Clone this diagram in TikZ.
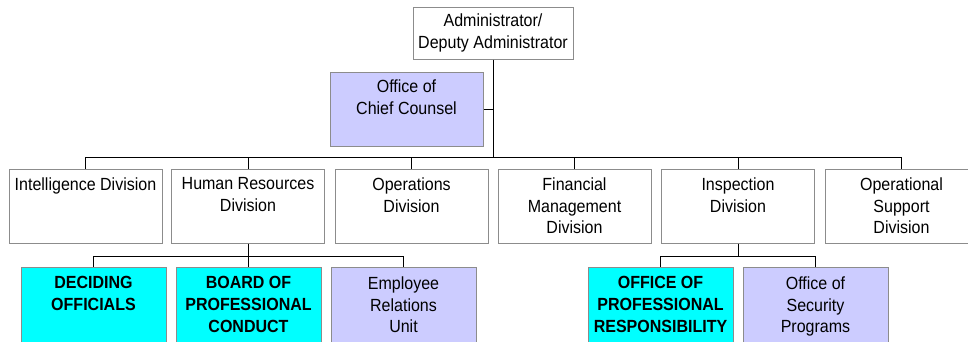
\documentclass[tikz,border=0pt]{standalone}
\usepackage{fontspec}
\setmainfont[FakeStretch=0.91]{Liberation Sans}
\definecolor{lav}{HTML}{CCCCFF}
\definecolor{cyn}{HTML}{00FFFF}
\definecolor{bord}{HTML}{8C8C8C}
\tikzset{
  orgbox/.style={draw=bord, line width=1pt, rectangle, inner sep=0pt},
  divbox/.style={orgbox, fill=white, minimum width=153pt, minimum height=74pt},
  subbox/.style={orgbox, minimum width=145pt, minimum height=86pt},
  txt/.style={align=center, inner sep=0pt, anchor=north, font=\fontsize{17.6pt}{21.7pt}\selectfont},
  btxt/.style={txt, font=\fontsize{17.6pt}{21.7pt}\selectfont\bfseries},
  conn/.style={draw=black, line width=1pt}
}
\begin{document}
\begin{tikzpicture}[x=1pt,y=-1pt]
\useasboundingbox (0,0) rectangle (968,341);
\clip (0,0) rectangle (968,341);
\fill[white] (0,0) rectangle (968,341);
% boxes
\node[orgbox, fill=white, minimum width=160pt, minimum height=52pt] (adm) at (493,33) {};
\node[orgbox, fill=lav, minimum width=153pt, minimum height=74pt] (cc) at (406.5,109) {};
\node[divbox] (int) at (85.5,206) {};
\node[divbox] (hr) at (248,206) {};
\node[divbox] (ops) at (411.5,206) {};
\node[divbox] (fin) at (574.5,206) {};
\node[divbox] (insp) at (738,206) {};
\node[divbox] (osd) at (901.5,206) {};
\node[subbox, fill=cyn] (dec) at (93.5,310) {};
\node[subbox, fill=cyn] (bpc) at (248.5,310) {};
\node[subbox, fill=lav] (eru) at (403.5,310) {};
\node[subbox, fill=cyn] (opr) at (660.5,310) {};
\node[subbox, fill=lav] (osp) at (815.5,310) {};
% texts
\node[txt] (admt) at ([yshift=-7.5pt]adm.north) {Administrator/\\Deputy Administrator};
\node[txt] (cct) at ([yshift=-8.5pt]cc.north) {Office of\\Chief Counsel};
\node[txt] (intt) at ([yshift=-9pt]int.north) {Intelligence Division};
\node[txt] (hrt) at ([yshift=-9pt]hr.north) {Human Resources\\Division};
\node[txt] (opst) at ([yshift=-9pt]ops.north) {Operations\\Division};
\node[txt] (fint) at ([yshift=-9pt]fin.north) {Financial\\Management\\Division};
\node[txt] (inspt) at ([yshift=-9pt]insp.north) {Inspection\\Division};
\node[txt] (osdt) at ([yshift=-9pt]osd.north) {Operational\\Support\\Division};
\node[btxt] (dect) at ([yshift=-10pt]dec.north) {DECIDING\\OFFICIALS};
\node[btxt] (bpct) at ([yshift=-10pt]bpc.north) {BOARD OF\\PROFESSIONAL\\CONDUCT};
\node[txt] (erut) at ([yshift=-10pt]eru.north) {Employee\\Relations\\Unit};
\node[btxt] (oprt) at ([yshift=-10pt]opr.north) {OFFICE OF\\PROFESSIONAL\\RESPONSIBILITY};
\node[txt] (ospt) at ([yshift=-10pt]osp.north) {Office of\\Security\\Programs};
% connectors
\coordinate (bus) at (493,157);
\coordinate (hrbus) at (248,256);
\coordinate (inbus) at (738,256);
\draw[conn] (adm.south) -- (bus);
\draw[conn] (cc.east) -- (cc.east -| adm.south);
\draw[conn] (int.north) -- (int.north |- bus) -- (osd.north |- bus) -- (osd.north);
\foreach \n in {hr,ops,fin,insp} {\draw[conn] (\n.north) -- (\n.north |- bus);}
\draw[conn] (hr.south) -- (hrbus);
\draw[conn] (dec.north) -- (dec.north |- hrbus) -- (eru.north |- hrbus) -- (eru.north);
\draw[conn] (bpc.north) -- (bpc.north |- hrbus);
\draw[conn] (insp.south) -- (inbus);
\draw[conn] (opr.north) -- (opr.north |- inbus) -- (osp.north |- inbus) -- (osp.north);
\end{tikzpicture}
\end{document}
